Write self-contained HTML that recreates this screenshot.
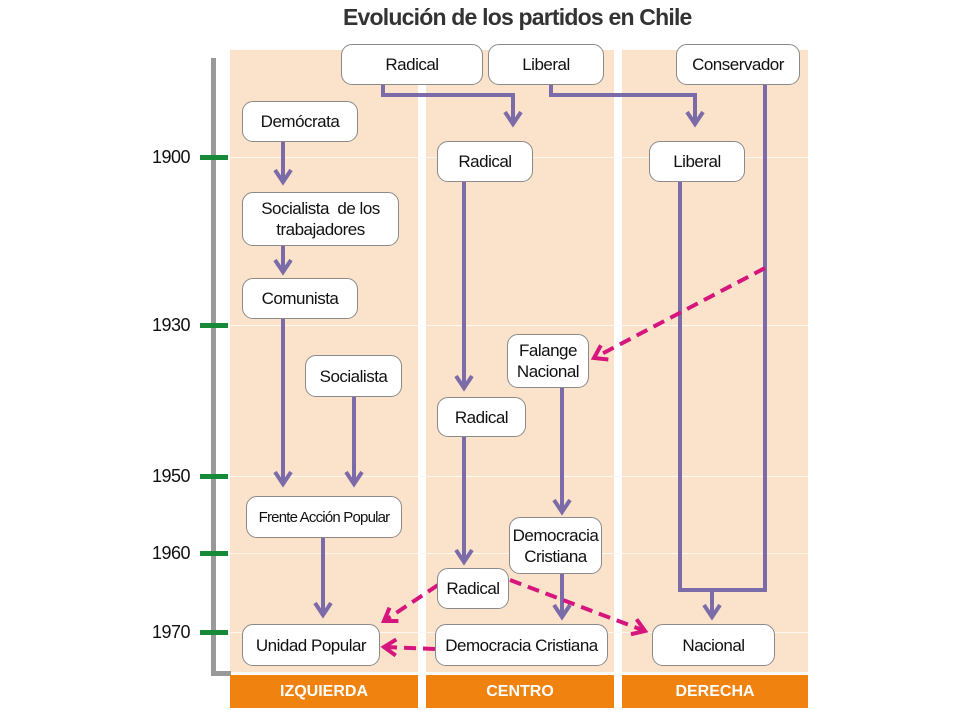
<!DOCTYPE html>
<html><head><meta charset="utf-8"><style>
body{margin:0;width:960px;height:720px;background:#fff;position:relative;overflow:hidden;font-family:"Liberation Sans",sans-serif}
.col{position:absolute;top:50px;height:622px;background:#fbe3cb}
.lab{position:absolute;top:675px;height:33px;background:#f0820f;color:#fff;font-weight:bold;font-size:16px;display:flex;align-items:center;justify-content:center}
.box{position:absolute;background:#fff;border:1.5px solid #8a8a8a;border-radius:11px;display:flex;align-items:center;justify-content:center;text-align:center;font-size:17px;line-height:21px;color:#111;box-sizing:border-box;letter-spacing:-0.5px;white-space:nowrap}
.yr{position:absolute;left:152px;font-size:18px;color:#111;letter-spacing:-0.5px}
.tk{position:absolute;left:200px;width:28px;height:5px;background:#178a3a}
.hl{position:absolute;left:230px;width:578px;height:1px;background:#fff6ee}
</style></head><body>
<div style="position:absolute;left:343px;top:4px;font-size:23px;font-weight:bold;color:#333;letter-spacing:-0.8px">Evolución de los partidos en Chile</div>
<div class="col" style="left:230px;width:188px"></div>
<div class="col" style="left:426px;width:188px"></div>
<div class="col" style="left:622px;width:186px"></div>
<div class="hl" style="top:157px"></div>
<div class="hl" style="top:325px"></div>
<div class="hl" style="top:476px"></div>
<div class="hl" style="top:553px"></div>
<div class="hl" style="top:632px"></div>
<div style="position:absolute;left:211px;top:58px;width:5px;height:618px;background:#999"></div>
<div style="position:absolute;left:211px;top:671px;width:20px;height:5px;background:#999"></div>
<div class="lab" style="left:230px;width:188px">IZQUIERDA</div>
<div class="lab" style="left:426px;width:188px">CENTRO</div>
<div class="lab" style="left:622px;width:186px">DERECHA</div>
<div class="tk" style="top:155px"></div><div class="yr" style="top:147px">1900</div>
<div class="tk" style="top:323px"></div><div class="yr" style="top:315px">1930</div>
<div class="tk" style="top:474px"></div><div class="yr" style="top:466px">1950</div>
<div class="tk" style="top:551px"></div><div class="yr" style="top:543px">1960</div>
<div class="tk" style="top:630px"></div><div class="yr" style="top:622px">1970</div>
<svg style="position:absolute;left:0;top:0" width="960" height="720">
<defs>
<marker id="pa" viewBox="0 0 10 10" refX="7" refY="5" markerWidth="5" markerHeight="5" orient="auto"><path d="M1,1 L7,5 L1,9" fill="none" stroke="#7b6ba8" stroke-width="2"/></marker>
<marker id="ma" viewBox="0 0 10 10" refX="7" refY="5" markerWidth="5" markerHeight="5" orient="auto"><path d="M1,1 L7,5 L1,9" fill="none" stroke="#d6157d" stroke-width="2"/></marker>
</defs>
<g fill="none" stroke="#7b6ba8" stroke-width="4" marker-end="url(#pa)">
<path d="M383,85 V95 H513 V124"/>
<path d="M551,85 V95 H695 V124"/>
<path d="M283,142 V182"/>
<path d="M283,246 V272"/>
<path d="M283,319 V484"/>
<path d="M354,397 V484"/>
<path d="M323,538 V615"/>
<path d="M464,182 V388"/>
<path d="M464,437 V562"/>
<path d="M562,388 V512"/>
<path d="M562,574 V617"/>
<path d="M712,590 V617"/>
</g>
<path d="M765,85 V590 H680 V182" fill="none" stroke="#7b6ba8" stroke-width="4"/>
<g fill="none" stroke="#d6157d" stroke-width="4" stroke-dasharray="12,7" marker-end="url(#ma)">
<path d="M765,268 L594,358"/>
<path d="M438,585 L384,621"/>
<path d="M510,580 L645,631"/>
<path d="M435,649 L384,647"/>
</g>
</svg>
<div class="box" style="left:341px;top:44px;width:142px;height:41px">Radical</div>
<div class="box" style="left:488px;top:44px;width:116px;height:41px">Liberal</div>
<div class="box" style="left:676px;top:44px;width:124px;height:41px">Conservador</div>
<div class="box" style="left:242px;top:101px;width:116px;height:41px">Demócrata</div>
<div class="box" style="left:242px;top:192px;width:157px;height:54px">Socialista&nbsp; de los<br>trabajadores</div>
<div class="box" style="left:242px;top:278px;width:116px;height:41px">Comunista</div>
<div class="box" style="left:305px;top:355px;width:97px;height:42px">Socialista</div>
<div class="box" style="left:246px;top:496px;width:156px;height:42px;font-size:15px;letter-spacing:-0.8px">Frente Acción Popular</div>
<div class="box" style="left:242px;top:624px;width:138px;height:42px">Unidad Popular</div>
<div class="box" style="left:437px;top:141px;width:96px;height:41px">Radical</div>
<div class="box" style="left:649px;top:141px;width:96px;height:41px">Liberal</div>
<div class="box" style="left:507px;top:334px;width:82px;height:54px">Falange<br>Nacional</div>
<div class="box" style="left:437px;top:397px;width:89px;height:40px">Radical</div>
<div class="box" style="left:509px;top:517px;width:93px;height:57px">Democracia<br>Cristiana</div>
<div class="box" style="left:437px;top:568px;width:72px;height:41px">Radical</div>
<div class="box" style="left:435px;top:624px;width:173px;height:42px">Democracia Cristiana</div>
<div class="box" style="left:652px;top:624px;width:123px;height:42px">Nacional</div>
</body></html>
